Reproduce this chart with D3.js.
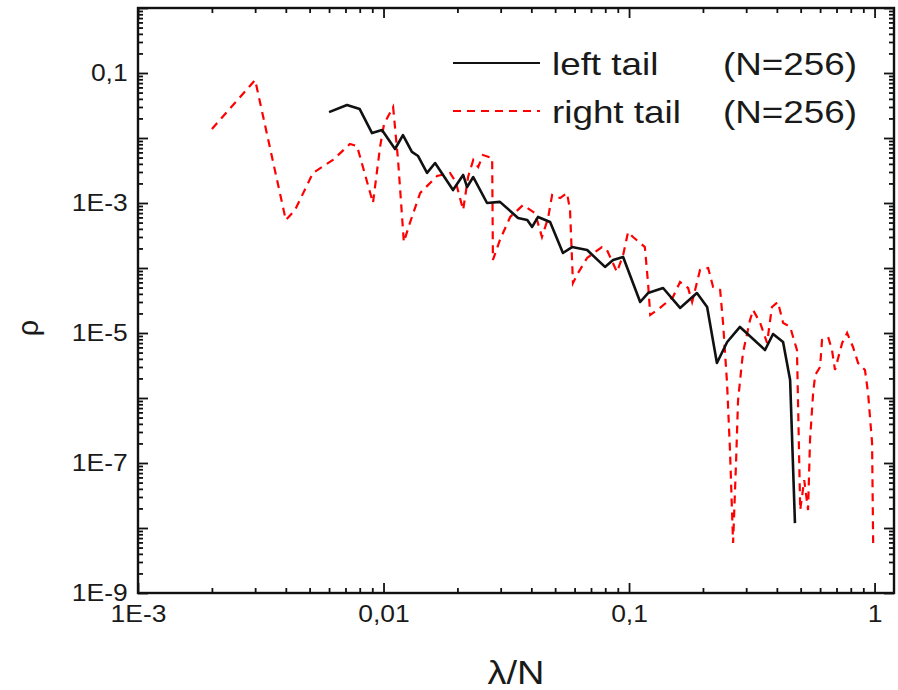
<!DOCTYPE html>
<html>
<head>
<meta charset="utf-8">
<script src="https://cdn.jsdelivr.net/npm/d3@7"></script>
<style>
  body { margin: 0; background: #fff; }
  text { font-family: "Liberation Sans", Arial, sans-serif; fill: #1a1a1a; }
</style>
</head>
<body>
<div id="chart"></div>
<script>
var w = 898,
    h = 690;

var margin = {top: 8, right: 4, bottom: 97, left: 138};
var iw = w - margin.left - margin.right,
    ih = h - margin.top - margin.bottom;

// left tail (N=256)
var leftX = [0.0060, 0.0071, 0.0080, 0.00898, 0.00986, 0.01114, 0.0120, 0.01305, 0.01383, 0.01504,
             0.01622, 0.01919, 0.0211, 0.0219, 0.0232, 0.0264, 0.0298, 0.0353, 0.0385, 0.0403,
             0.0426, 0.0477, 0.0538, 0.0586, 0.0675, 0.0798, 0.0861, 0.0946, 0.111, 0.1195,
             0.1376, 0.1614, 0.189, 0.208, 0.228, 0.251, 0.283, 0.358, 0.386, 0.424,
             0.453, 0.474];
var leftY = [0.025, 0.0322, 0.0279, 0.0119, 0.0133, 0.00677, 0.0111, 0.0061, 0.00528, 0.0029,
             0.00412, 0.00158, 0.0027, 0.00176, 0.00251, 0.0010, 0.00104, 0.000588, 0.000547, 0.000428,
             0.00061, 0.00051, 0.00017, 0.00021, 0.000189, 0.000104, 0.000133, 0.000148, 3.0e-5, 4.12e-5,
             4.92e-5, 2.43e-5, 4.12e-5, 2.51e-5, 3.45e-6, 7.27e-6, 1.24e-5, 5.47e-6, 9.65e-6, 7.27e-6,
             1.89e-6, 1.19e-8];

// right tail (N=256)
var rightX = [0.0020, 0.0030, 0.0040, 0.00436, 0.00516, 0.00622, 0.0073, 0.0078, 0.00906, 0.00968,
              0.01005, 0.01094, 0.01146, 0.0121, 0.0128, 0.0141, 0.01652, 0.01866, 0.0197, 0.0211,
              0.0221, 0.0232, 0.0243, 0.0254, 0.0277, 0.0279, 0.0298, 0.0328, 0.037, 0.0414,
              0.0442, 0.0468, 0.0486, 0.0524, 0.0559, 0.0575, 0.0591, 0.0620, 0.0675, 0.0776,
              0.0813, 0.0893, 0.0946, 0.0991, 0.1038, 0.116, 0.1195, 0.122, 0.1337, 0.151,
              0.1614, 0.174, 0.1807, 0.1946, 0.21, 0.22, 0.235, 0.2415, 0.2507, 0.2577,
              0.2653, 0.273, 0.278, 0.291, 0.311, 0.32, 0.342, 0.365, 0.382, 0.404,
              0.424, 0.453, 0.483, 0.498, 0.517, 0.536, 0.546, 0.562, 0.573, 0.600,
              0.611, 0.647, 0.671, 0.690, 0.738, 0.773, 0.817, 0.857, 0.914, 0.941,
              0.977, 0.987];
var rightY = [0.01375, 0.078, 0.000547, 0.00078, 0.0029, 0.00459, 0.0081, 0.00753, 0.0010, 0.00727,
              0.0164, 0.030, 0.00459, 0.000251, 0.000492, 0.001425, 0.0026, 0.0029, 0.0021, 0.00078,
              0.00251, 0.00459, 0.00358, 0.00547, 0.00492, 0.000133, 0.00027, 0.00061, 0.00093, 0.0007,
              0.0003, 0.000588, 0.00133, 0.00119, 0.001425, 0.00078, 5.88e-5, 8.38e-5, 0.000143, 0.00021,
              0.000189, 8.67e-5, 0.000158, 0.000358, 0.0003, 0.00021, 5.88e-5, 1.89e-5, 2.43e-5, 3.58e-5,
              6.09e-5, 4.92e-5, 3.0e-5, 9.31e-5, 1.0e-4, 5.1e-5, 4.59e-5, 1.43e-5, 1.7e-6, 1.58e-7,
              5.88e-9, 1.11e-7, 9.3e-7, 4.92e-6, 1.58e-5, 2.26e-5, 1.43e-5, 7.02e-6, 2.51e-5, 3.0e-5,
              1.43e-5, 1.24e-5, 5.47e-6, 1.89e-8, 5.47e-8, 1.89e-8, 2.26e-7, 1.19e-6, 2.26e-6, 3.0e-6,
              7.8e-6, 8.67e-6, 5.47e-6, 2.7e-6, 7.02e-6, 1.0e-5, 6.09e-6, 3.45e-6, 2.7e-6, 1.19e-6,
              2.03e-7, 5.88e-9];

var xTickValues = [1e-3, 1e-2, 1e-1, 1],
    xTickLabels = ["1E-3", "0,01", "0,1", "1"];
var yTickValues = [1e-9, 1e-7, 1e-5, 1e-3, 1e-1],
    yTickLabels = ["1E-9", "1E-7", "1E-5", "1E-3", "0,1"];

var seriesNames = ["left tail", "right tail"],
    seriesN = ["(N=256)", "(N=256)"];

var stretch = 1.15;

var svg = d3.select("#chart")
    .append("svg")
    .attr("width", w)
    .attr("height", h);

var g = svg.append("g")
    .attr("transform", "translate(" + margin.left + "," + margin.top + ")");

var x = d3.scaleLog().domain([1e-3, 1.2]).range([0, iw]);
var y = d3.scaleLog().domain([1e-9, 1]).range([ih, 0]);

var isDecade = function(v) { return Math.abs(Math.log10(v) - Math.round(Math.log10(v))) < 1e-9; };

var xMajor = x.ticks().filter(isDecade),
    xMinor = x.ticks().filter(function(v) { return !isDecade(v); });
var yMajor = y.ticks().filter(isDecade),
    yMinor = y.ticks().filter(function(v) { return !isDecade(v); });

var xLabel = function(v) {
  var i = xTickValues.findIndex(function(t) { return Math.abs(t - v) / t < 1e-6; });
  return i < 0 ? "" : xTickLabels[i];
};
var yLabel = function(v) {
  var i = yTickValues.findIndex(function(t) { return Math.abs(t - v) / t < 1e-6; });
  return i < 0 ? "" : yTickLabels[i];
};

function styleAxis(sel) {
  sel.select(".domain").remove();
  sel.selectAll(".tick line").attr("stroke", "#111").attr("stroke-width", 1.8);
  sel.selectAll(".tick text")
     .attr("font-size", 23)
     .attr("fill", "#1a1a1a")
     .attr("transform", "scale(" + stretch + ",1)");
}

// bottom
g.append("g").attr("transform", "translate(0," + ih + ")")
  .call(d3.axisBottom(x).tickValues(xMajor).tickSize(-10).tickPadding(13).tickFormat(xLabel))
  .call(styleAxis);
g.append("g").attr("transform", "translate(0," + ih + ")")
  .call(d3.axisBottom(x).tickValues(xMinor).tickSize(-5).tickFormat(""))
  .call(styleAxis);
// top
g.append("g")
  .call(d3.axisTop(x).tickValues(xMajor).tickSize(-10).tickFormat(""))
  .call(styleAxis);
g.append("g")
  .call(d3.axisTop(x).tickValues(xMinor).tickSize(-5).tickFormat(""))
  .call(styleAxis);
// left
g.append("g")
  .call(d3.axisLeft(y).tickValues(yMajor).tickSize(-10).tickPadding(9).tickFormat(yLabel))
  .call(styleAxis);
g.append("g")
  .call(d3.axisLeft(y).tickValues(yMinor).tickSize(-5).tickFormat(""))
  .call(styleAxis);
// right
g.append("g").attr("transform", "translate(" + iw + ",0)")
  .call(d3.axisRight(y).tickValues(yMajor).tickSize(-10).tickFormat(""))
  .call(styleAxis);
g.append("g").attr("transform", "translate(" + iw + ",0)")
  .call(d3.axisRight(y).tickValues(yMinor).tickSize(-5).tickFormat(""))
  .call(styleAxis);

g.append("rect")
  .attr("width", iw)
  .attr("height", ih)
  .attr("fill", "none")
  .attr("stroke", "#111")
  .attr("stroke-width", 2.4);

// series
var line = d3.line()
    .x(function(d) { return x(d[0]); })
    .y(function(d) { return y(d[1]); });

var leftData = leftX.map(function(v, i) { return [v, leftY[i]]; }),
    rightData = rightX.map(function(v, i) { return [v, rightY[i]]; });

g.append("path")
  .datum(rightData)
  .attr("d", line)
  .attr("fill", "none")
  .attr("stroke", "#ff0000")
  .attr("stroke-width", 2.2)
  .attr("stroke-dasharray", "8,6");

g.append("path")
  .datum(leftData)
  .attr("d", line)
  .attr("fill", "none")
  .attr("stroke", "#111")
  .attr("stroke-width", 2.6)
  .attr("stroke-linejoin", "round");

// legend
var legend = svg.append("g");
var legendRows = [
  {name: seriesNames[0], n: seriesN[0], color: "#111", dash: null, y: 63},
  {name: seriesNames[1], n: seriesN[1], color: "#ff0000", dash: "8,6", y: 111}
];
legendRows.forEach(function(r) {
  legend.append("line")
    .attr("x1", 453).attr("x2", 540)
    .attr("y1", r.y).attr("y2", r.y)
    .attr("stroke", r.color)
    .attr("stroke-width", 2)
    .attr("stroke-dasharray", r.dash);
  legend.append("text")
    .attr("transform", "translate(552," + (r.y + 12) + ") scale(" + stretch + ",1)")
    .attr("font-size", 32)
    .text(r.name);
  legend.append("text")
    .attr("transform", "translate(723," + (r.y + 12) + ") scale(" + stretch + ",1)")
    .attr("font-size", 32)
    .text(r.n);
});

// axis titles
svg.append("text")
  .attr("transform", "translate(" + (margin.left + iw / 2) + ",684) scale(" + stretch + ",1)")
  .attr("text-anchor", "middle")
  .attr("font-size", 33)
  .text("λ/N");

svg.append("text")
  .attr("transform", "translate(38,328) rotate(-90)")
  .attr("text-anchor", "middle")
  .attr("font-size", 29)
  .text("ρ");
</script>
</body>
</html>
